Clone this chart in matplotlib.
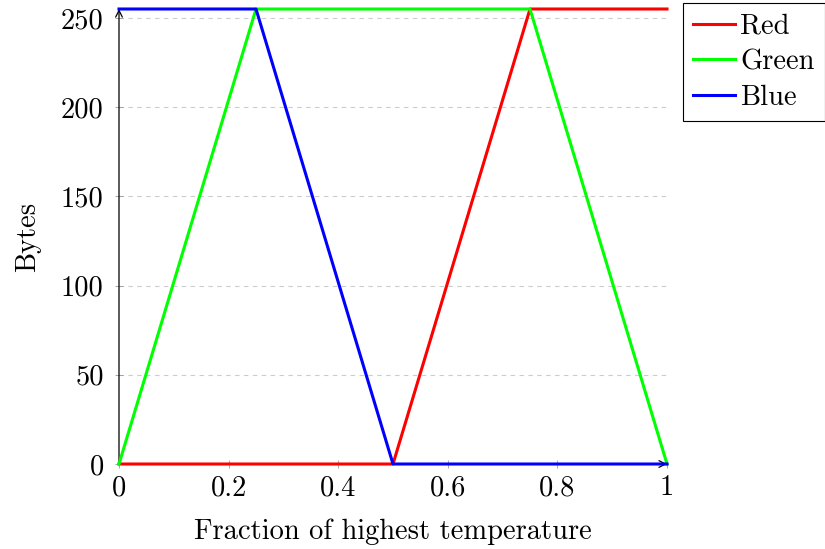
import matplotlib
matplotlib.use("Agg")
import matplotlib.pyplot as plt
from matplotlib.ticker import FuncFormatter

plt.rcParams["font.family"] = "serif"
plt.rcParams["font.serif"] = ["cmr10"]
plt.rcParams["mathtext.fontset"] = "cm"
plt.rcParams["axes.unicode_minus"] = False
plt.rcParams["axes.formatter.use_mathtext"] = True

# Piecewise-linear colour ramp: channel value vs. fraction of max temperature
red_x = [0, 0.5, 0.75, 1]
red_y = [0, 0, 255, 255]
green_x = [0, 0.25, 0.75, 1]
green_y = [0, 255, 255, 0]
blue_x = [0, 0.25, 0.5, 1]
blue_y = [255, 255, 0, 0]

xticks = [0, 0.2, 0.4, 0.6, 0.8, 1]
yticks = [0, 50, 100, 150, 200, 250]

FS = 20.5

fig = plt.figure(figsize=(8.25, 5.49), dpi=100)
ax = fig.add_axes([119 / 825, 1 - 464 / 549, (667 - 119) / 825, (464 - 9) / 549])

ax.set_xlim(0, 1)
ax.set_ylim(0, 255)

lw = 2.2
ax.plot(red_x, red_y, color="#ff0000", lw=lw, label="Red", clip_on=False, zorder=3)
ax.plot(green_x, green_y, color="#00ff00", lw=lw, label="Green", clip_on=False, zorder=3)
ax.plot(blue_x, blue_y, color="#0000ff", lw=lw, label="Blue", clip_on=False, zorder=3)

for s in ax.spines.values():
    s.set_visible(False)

# axis lines with arrow heads
ax.annotate("", xy=(0, 1.0), xytext=(0, 0), xycoords="axes fraction",
            arrowprops=dict(arrowstyle="->", lw=0.9, color="black",
                            mutation_scale=12, shrinkA=0, shrinkB=0), zorder=2)
ax.annotate("", xy=(1.0, 0), xytext=(0, 0), xycoords="axes fraction",
            arrowprops=dict(arrowstyle="->", lw=0.9, color="black",
                            mutation_scale=12, shrinkA=0, shrinkB=0), zorder=2)

ax.set_xticks(xticks)
ax.set_yticks(yticks)
ax.xaxis.set_major_formatter(FuncFormatter(lambda v, p: "%g" % v))
ax.yaxis.set_major_formatter(FuncFormatter(lambda v, p: "%g" % v))
ax.tick_params(direction="inout", length=6, width=0.6, color="#999999",
               labelsize=FS)
ax.tick_params(axis="y", pad=8)
ax.tick_params(axis="x", pad=5)

ax.yaxis.grid(True, linestyle=(0, (4, 4)), color="#cccccc", lw=0.8)
ax.set_axisbelow(True)

ax.set_xlabel("Fraction of highest temperature", fontsize=FS, labelpad=12)
ax.set_ylabel("Bytes", fontsize=FS, labelpad=14)

leg = ax.legend(loc="upper left", bbox_to_anchor=(683 / 825, 1 - 3 / 549),
                bbox_transform=fig.transFigure, fontsize=FS, frameon=True,
                fancybox=False, edgecolor="black", framealpha=1,
                handlelength=1.45, handletextpad=0.2, borderpad=0.36,
                labelspacing=0.33, borderaxespad=0)
leg.get_frame().set_linewidth(0.8)

fig.savefig("out.png", dpi=100)
